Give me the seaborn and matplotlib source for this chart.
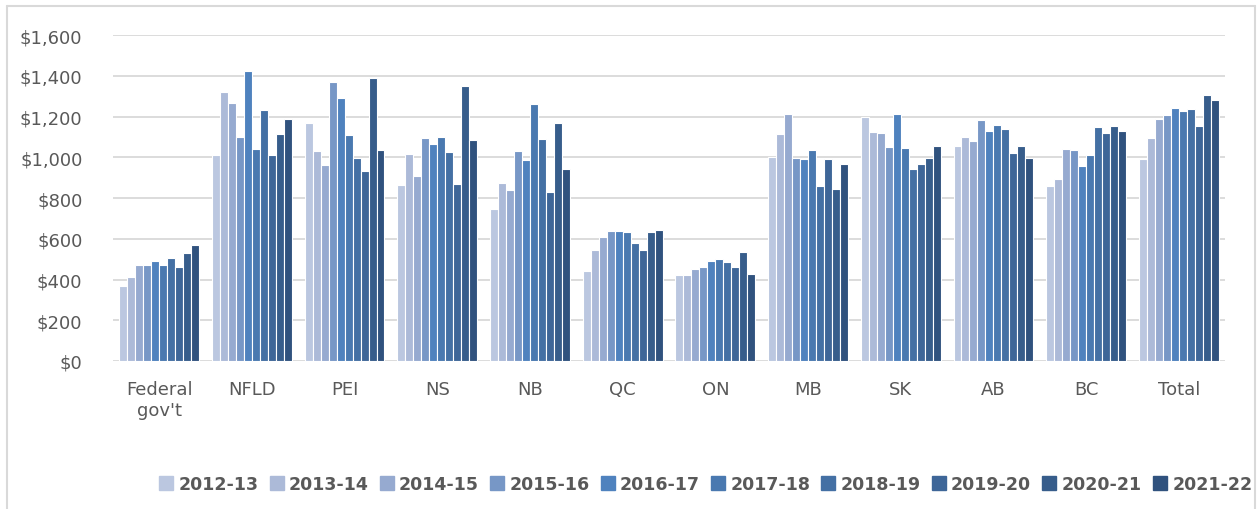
import pandas as pd
import numpy as np
import matplotlib.pyplot as plt
import seaborn as sns
from matplotlib.lines import Line2D
from matplotlib.ticker import FuncFormatter

regions = ['Federal\ngov\'t', 'NFLD', 'PEI', 'NS', 'NB', 'QC', 'ON', 'MB', 'SK', 'AB', 'BC', 'Total']
years = ['2012-13', '2013-14', '2014-15', '2015-16', '2016-17',
         '2017-18', '2018-19', '2019-20', '2020-21', '2021-22']

federal = [366, 414, 470, 470, 489, 473, 504, 463, 532, 569]
nfld = [1010, 1319, 1268, 1101, 1422, 1042, 1234, 1013, 1112, 1186]
pei = [1170, 1029, 964, 1371, 1292, 1111, 998, 934, 1387, 1034]
ns = [862, 1016, 906, 1094, 1067, 1098, 1026, 869, 1351, 1085]
nb = [746, 875, 838, 1032, 985, 1261, 1088, 828, 1170, 941]
qc = [442, 546, 607, 636, 636, 633, 579, 546, 633, 645]
on = [420, 422, 450, 460, 491, 501, 484, 463, 537, 429]
mb = [1001, 1112, 1211, 995, 990, 1036, 859, 990, 846, 965]
sk = [1198, 1126, 1119, 1049, 1211, 1044, 941, 965, 995, 1057]
ab = [1054, 1101, 1081, 1183, 1129, 1157, 1140, 1022, 1054, 995]
bc = [859, 893, 1042, 1034, 955, 1013, 1150, 1121, 1153, 1129]
total = [990, 1094, 1186, 1207, 1242, 1227, 1238, 1153, 1307, 1279]

colors = ['#BBC7E0', '#ACBAD8', '#96AAD0', '#7797C6', '#4F82BE',
          '#4A79B0', '#4470A4', '#3E6698', '#375D8B', '#30527E']

series = [federal, nfld, pei, ns, nb, qc, on, mb, sk, ab, bc, total]
rows = []
for reg, vals in zip(regions, series):
    for yr, v in zip(years, vals):
        rows.append({'region': reg, 'year': yr, 'cost': v})
df = pd.DataFrame(rows)

sns.set_style('white')
plt.rcParams['font.family'] = ['DejaVu Sans']

fig = plt.figure(figsize=(12.58, 5.10), dpi=100)
ax = fig.add_axes([0.0898, 0.2902, 0.8840, 0.6392])

sns.barplot(data=df, x='region', y='cost', hue='year', order=regions,
            hue_order=years, palette=colors, width=0.86, edgecolor='white',
            linewidth=0.8, saturation=1, errorbar=None, legend=False, ax=ax)

ax.set_ylim(0, 1600)
ax.set_xlim(-0.5, len(regions) - 0.5)
ax.set_yticks(range(0, 1601, 200))
ax.yaxis.set_major_formatter(FuncFormatter(lambda v, p: f'${int(v):,}'))
ax.grid(axis='y', color='#D9D9D9', linewidth=1.3)
ax.set_axisbelow(True)
for s in ax.spines.values():
    s.set_visible(False)
ax.tick_params(axis='y', length=0, pad=22, labelsize=13, labelcolor='#595959')
ax.tick_params(axis='x', length=0, pad=14, labelsize=13, labelcolor='#595959')
ax.set_xlabel('')
ax.set_ylabel('')

handles = [Line2D([0], [0], marker='s', linestyle='', markersize=10,
                  markerfacecolor=c, markeredgecolor=c) for c in colors]
fig.legend(handles, years, loc='center', bbox_to_anchor=(0.561, 0.049), ncol=10,
           frameon=False, handlelength=0.8, handletextpad=0.3, columnspacing=0.65,
           prop={'weight': 'bold', 'size': 12.5}, labelcolor='#595959')

# outer chart frame
fig.add_artist(Line2D([7 / 1258, 7 / 1258], [0, 1 - 7 / 510], transform=fig.transFigure, color='#D9D9D9', linewidth=1.5))
fig.add_artist(Line2D([7 / 1258, 1255 / 1258], [1 - 7 / 510, 1 - 7 / 510], transform=fig.transFigure, color='#D9D9D9', linewidth=1.5))
fig.add_artist(Line2D([1255 / 1258, 1255 / 1258], [0, 1 - 7 / 510], transform=fig.transFigure, color='#D9D9D9', linewidth=1.5))

plt.savefig('out.png', dpi=100)
